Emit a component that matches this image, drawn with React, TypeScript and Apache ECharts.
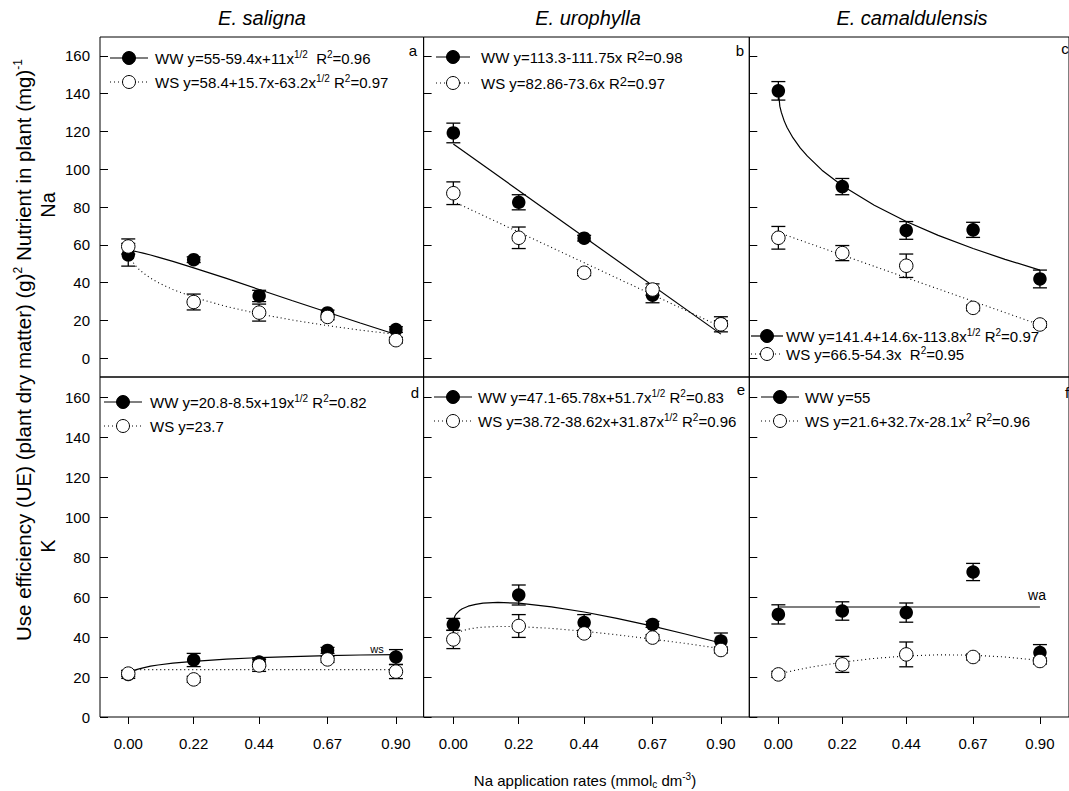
import React, { useEffect, useRef } from 'react';
import * as echarts from 'echarts';

// ---------- data ----------
const rates = [0, 0.22, 0.44, 0.67, 0.9];
const yTicks = [0, 20, 40, 60, 80, 100, 120, 140, 160];
const speciesNames = ['E. saligna', 'E. urophylla', 'E. camaldulensis'];
const panelLetters = ['a', 'b', 'c', 'd', 'e', 'f'];

// Na (top row) – means and error (half bar)
const salignaNaWW = [54.7, 52.1, 32.9, 23.9, 15.1];
const salignaNaWWErr = [6, 1.5, 3, 1.5, 1.5];
const salignaNaWS = [59.1, 29.7, 24.1, 21.8, 9.5];
const salignaNaWSErr = [4, 4.2, 4.5, 1.5, 1.5];
const urophyllaNaWW = [119.2, 82.5, 63.5, 33.3, 18.3];
const urophyllaNaWWErr = [5.2, 4, 1.5, 4, 1.5];
const urophyllaNaWS = [87.3, 63.7, 45.2, 36.3, 17.9];
const urophyllaNaWSErr = [6, 5.7, 1.5, 3, 4];
const camalNaWW = [141.5, 90.8, 67.6, 67.9, 41.9];
const camalNaWWErr = [4.9, 4.3, 4.7, 4, 4.7];
const camalNaWS = [63.7, 55.6, 48.9, 26.6, 17.8];
const camalNaWSErr = [6, 4, 6.2, 1.5, 1.5];

// K (bottom row)
const salignaKWW = [21.3, 28.5, 27.5, 33.3, 30];
const salignaKWWErr = [2, 3.3, 2, 1.5, 3.7];
const salignaKWS = [21.7, 18.8, 25.8, 28.8, 22.7];
const salignaKWSErr = [1.5, 1.5, 3, 1.5, 3.5];
const urophyllaKWW = [46.3, 61, 47.2, 46.3, 38];
const urophyllaKWWErr = [3, 5, 4, 1.5, 4];
const urophyllaKWS = [38.8, 45.5, 41.8, 39.7, 33.5];
const urophyllaKWSErr = [4.6, 5.7, 1.5, 1.5, 1.5];
const camalKWW = [51.3, 53, 52.2, 72.5, 32.2];
const camalKWWErr = [4.8, 4.6, 4.8, 4.3, 4];
const camalKWS = [21.3, 26.3, 31.3, 30, 28];
const camalKWSErr = [1.5, 4, 6.2, 1.5, 1.5];

// fitted curves at these x positions
const fitX = [0, 0.005, 0.01, 0.02, 0.03, 0.05, 0.075, 0.1, 0.15, 0.22, 0.33, 0.44, 0.55, 0.67, 0.78, 0.9];
const lineX = [0, 0.9];
const quadX = [0, 0.11, 0.22, 0.33, 0.44, 0.55, 0.67, 0.78, 0.9];

const salignaNaWWFit = [56.5, 56.8, 56.8, 56.6, 56.3, 55.6, 54.6, 53.5, 51.2, 47.8, 42.2, 36.3, 30.5, 24.3, 18.6, 12.5];
const salignaNaWSFit = [58.4, 54.0, 52.2, 49.8, 47.9, 45.1, 42.3, 40.0, 36.3, 32.2, 27.3, 23.4, 20.2, 17.2, 14.8, 12.6];
const urophyllaNaWWFit = [113.3, 12.7];
const urophyllaNaWSFit = [82.9, 16.6];
const camalNaWWFit = [141.4, 133.4, 130.2, 125.6, 122.1, 116.7, 111.3, 106.9, 99.5, 91.2, 80.9, 72.3, 65.0, 58.0, 52.3, 46.6];
const camalNaWSFit = [66.5, 17.6];
const salignaKWWFit = [20.8, 22.1, 22.6, 23.3, 23.8, 24.6, 25.4, 26.0, 26.9, 27.8, 28.9, 29.7, 30.2, 30.7, 31.0, 31.2];
const salignaKWSFit = [23.7, 23.7];
const urophyllaKWWFit = [47.1, 50.4, 51.6, 53.1, 54.1, 55.4, 56.3, 56.9, 57.3, 56.9, 55.1, 52.5, 49.3, 45.4, 41.5, 37.0];
const urophyllaKWSFit = [38.7, 40.8, 41.5, 42.5, 43.1, 43.9, 44.6, 44.9, 45.3, 45.2, 44.3, 42.9, 41.1, 38.9, 36.8, 34.2];
const camalKWWFit = [55, 55];
const camalKWSFit = [21.6, 24.9, 27.4, 29.3, 30.5, 31.1, 30.9, 30.0, 28.3];

const legendWW = [
  'WW y=55-59.4x+11x{s|1/2}  R{s|2}=0.96',
  'WW y=113.3-111.75x R{S|2}=0.98',
  'WW y=141.4+14.6x-113.8x{s|1/2} R{s|2}=0.97',
  'WW y=20.8-8.5x+19x{s|1/2} R{s|2}=0.82',
  'WW y=47.1-65.78x+51.7x{s|1/2} R{s|2}=0.83',
  'WW y=55',
];
const legendWS = [
  'WS y=58.4+15.7x-63.2x{s|1/2} R{s|2}=0.97',
  'WS y=82.86-73.6x R{S|2}=0.97',
  'WS y=66.5-54.3x  R{s|2}=0.95',
  'WS y=23.7',
  'WS y=38.72-38.62x+31.87x{s|1/2} R{s|2}=0.96',
  'WS y=21.6+32.7x-28.1x{s|2} R{s|2}=0.96',
];

// ---------- layout ----------
const FONT = "'Liberation Sans', Arial, Helvetica, sans-serif";
const colLeft = [100, 423.6, 749.3];
const colWidth = [323.6, 325.7, 327];
const colMin = [-0.095, -0.1, -0.1];
const colMax = [0.993, 0.9955, 1.0];
const rowTop = [37, 377];
const rowHeight = 340;
const rowMin = [-10, 0];
const rowMax = 170;

const legendPos = [
  { cx: 129, tx: 155, y: [58, 82], half: 19 },
  { cx: 453, tx: 481, y: [57, 83], half: 17 },
  { cx: 767, tx: 786, y: [336, 354], half: 16 },
  { cx: 123, tx: 150, y: [402, 426], half: 19 },
  { cx: 453, tx: 478, y: [397, 421], half: 19 },
  { cx: 780, tx: 805, y: [397, 421], half: 19 },
];
const letterPos = [
  [413, 50], [740, 50], [1065, 48], [415, 392], [741, 389], [1067, 392],
];

const richSup = {
  s: { fontSize: 10, fontFamily: FONT, verticalAlign: 'top', lineHeight: 10, fill: '#000', color: '#000' },
  S: { fontSize: 13, fontFamily: FONT, verticalAlign: 'top', lineHeight: 13, fill: '#000', color: '#000' },
  c: { fontSize: 10, fontFamily: FONT, verticalAlign: 'bottom', lineHeight: 10, fill: '#000', color: '#000' },
};

function pairs(xs: number[], ys: number[]) {
  return xs.map((x, i) => [x, ys[i]]);
}

export default function App() {
  const ref = useRef<HTMLDivElement>(null);

  useEffect(() => {
    if (!ref.current) return;
    const chart = echarts.init(ref.current, null, { renderer: 'svg' });

    const panels = [
      { ww: salignaNaWW, wwE: salignaNaWWErr, ws: salignaNaWS, wsE: salignaNaWSErr, wwFx: fitX, wwF: salignaNaWWFit, wsFx: fitX, wsF: salignaNaWSFit },
      { ww: urophyllaNaWW, wwE: urophyllaNaWWErr, ws: urophyllaNaWS, wsE: urophyllaNaWSErr, wwFx: lineX, wwF: urophyllaNaWWFit, wsFx: lineX, wsF: urophyllaNaWSFit },
      { ww: camalNaWW, wwE: camalNaWWErr, ws: camalNaWS, wsE: camalNaWSErr, wwFx: fitX, wwF: camalNaWWFit, wsFx: lineX, wsF: camalNaWSFit },
      { ww: salignaKWW, wwE: salignaKWWErr, ws: salignaKWS, wsE: salignaKWSErr, wwFx: fitX, wwF: salignaKWWFit, wsFx: lineX, wsF: salignaKWSFit },
      { ww: urophyllaKWW, wwE: urophyllaKWWErr, ws: urophyllaKWS, wsE: urophyllaKWSErr, wwFx: fitX, wwF: urophyllaKWWFit, wsFx: fitX, wsF: urophyllaKWSFit },
      { ww: camalKWW, wwE: camalKWWErr, ws: camalKWS, wsE: camalKWSErr, wwFx: lineX, wwF: camalKWWFit, wsFx: quadX, wsF: camalKWSFit },
    ];

    const grids: any[] = [];
    const xAxes: any[] = [];
    const yAxes: any[] = [];
    const series: any[] = [];
    const graphics: any[] = [];

    const errRender = (params: any, api: any) => {
      const x = api.value(0);
      const y = api.value(1);
      const e = api.value(2);
      const top = api.coord([x, y + e]);
      const bot = api.coord([x, y - e]);
      const hw = 7;
      const st = { stroke: '#000', lineWidth: 1.3 };
      return {
        type: 'group',
        children: [
          { type: 'line', shape: { x1: top[0], y1: top[1], x2: bot[0], y2: bot[1] }, style: st },
          { type: 'line', shape: { x1: top[0] - hw, y1: top[1], x2: top[0] + hw, y2: top[1] }, style: st },
          { type: 'line', shape: { x1: bot[0] - hw, y1: bot[1], x2: bot[0] + hw, y2: bot[1] }, style: st },
        ],
      };
    };

    panels.forEach((p, i) => {
      const row = Math.floor(i / 3);
      const col = i % 3;
      grids.push({
        left: colLeft[col], top: rowTop[row], width: colWidth[col], height: rowHeight,
        show: true, borderColor: '#000', borderWidth: 1, backgroundColor: 'transparent',
        containLabel: false,
      });
      xAxes.push({
        type: 'value', gridIndex: i, min: colMin[col], max: colMax[col],
        position: 'bottom',
        axisLine: { show: false, onZero: false },
        splitLine: { show: false },
        axisTick: row === 1
          ? { show: true, inside: false, length: 7, customValues: rates, lineStyle: { color: '#000' } }
          : { show: false },
        axisLabel: row === 1
          ? { show: true, customValues: rates, formatter: (v: number) => v.toFixed(2), fontSize: 15, fontFamily: FONT, color: '#000', margin: 19 }
          : { show: false },
      });
      yAxes.push({
        type: 'value', gridIndex: i, min: rowMin[row], max: rowMax,
        position: 'left',
        axisLine: { show: false, onZero: false },
        splitLine: { show: false },
        axisTick: { show: true, inside: true, length: 8, customValues: yTicks, lineStyle: { color: '#000' } },
        axisLabel: col === 0
          ? { show: true, customValues: yTicks, fontSize: 15, fontFamily: FONT, color: '#000', margin: 10 }
          : { show: false },
      });

      series.push({
        type: 'line', xAxisIndex: i, yAxisIndex: i, data: pairs(p.wwFx, p.wwF),
        symbol: 'none', smooth: false, silent: true, z: 2,
        lineStyle: { color: '#000', width: 1.2 },
      });
      series.push({
        type: 'line', xAxisIndex: i, yAxisIndex: i, data: pairs(p.wsFx, p.wsF),
        symbol: 'none', smooth: false, silent: true, z: 2,
        lineStyle: { color: '#000', width: 1.1, type: [1, 3] },
      });
      series.push({
        type: 'custom', xAxisIndex: i, yAxisIndex: i, z: 3,
        data: rates.map((x, k) => [x, p.ww[k], p.wwE[k]]),
        encode: { x: 0, y: 1 }, renderItem: errRender, silent: true,
      });
      series.push({
        type: 'scatter', xAxisIndex: i, yAxisIndex: i, z: 4,
        data: pairs(rates, p.ww), symbol: 'circle', symbolSize: 13.5,
        itemStyle: { color: '#000', opacity: 1 }, silent: true,
      });
      series.push({
        type: 'custom', xAxisIndex: i, yAxisIndex: i, z: 5,
        data: rates.map((x, k) => [x, p.ws[k], p.wsE[k]]),
        encode: { x: 0, y: 1 }, renderItem: errRender, silent: true,
      });
      series.push({
        type: 'scatter', xAxisIndex: i, yAxisIndex: i, z: 6,
        data: pairs(rates, p.ws), symbol: 'circle', symbolSize: 13.5,
        itemStyle: { color: '#fff', borderColor: '#000', borderWidth: 1, opacity: 1 }, silent: true,
      });

      // legend
      const lp = legendPos[i];
      [0, 1].forEach((k) => {
        const y = lp.y[k];
        graphics.push({
          type: 'line', z: 20,
          shape: { x1: lp.cx - lp.half, y1: y, x2: lp.cx + lp.half, y2: y },
          style: k === 0 ? { stroke: '#000', lineWidth: 1.2 } : { stroke: '#000', lineWidth: 1.1, lineDash: [1, 3] },
        });
        graphics.push({
          type: 'circle', z: 21,
          shape: { cx: lp.cx, cy: y, r: 6.5 },
          style: k === 0 ? { fill: '#000', stroke: '#000', lineWidth: 1 } : { fill: '#fff', stroke: '#000', lineWidth: 1 },
        });
        graphics.push({
          type: 'text', z: 21, x: lp.tx, y,
          style: {
            text: k === 0 ? legendWW[i] : legendWS[i],
            fontSize: 15, fontFamily: FONT, fill: '#000',
            align: 'left', verticalAlign: 'middle', lineHeight: 17,
            rich: richSup,
          },
        });
      });
      graphics.push({
        type: 'text', z: 21, x: letterPos[i][0], y: letterPos[i][1],
        style: { text: panelLetters[i], fontSize: 15, fontFamily: FONT, fill: '#000', align: 'center', verticalAlign: 'middle' },
      });
    });

    // species titles
    speciesNames.forEach((s, c) => {
      graphics.push({
        type: 'text', x: [262, 588, 912][c], y: 18,
        style: { text: s, fontSize: 20, fontStyle: 'italic', fontFamily: FONT, fill: '#000', align: 'center', verticalAlign: 'middle' },
      });
    });

    // axis titles
    graphics.push({
      type: 'text', x: 585, y: 780,
      style: {
        text: 'Na application rates (mmol{c|c} dm{s|-3})',
        fontSize: 15, fontFamily: FONT, fill: '#000', align: 'center', verticalAlign: 'middle', lineHeight: 18,
        rich: richSup,
      },
    });
    graphics.push({
      type: 'text', x: 23, y: 350, rotation: Math.PI / 2,
      style: {
        text: 'Use efficiency (UE) (plant dry matter) (g){s|2} Nutrient in plant (mg){s|-1}',
        fontSize: 20.5, fontFamily: FONT, fill: '#000', align: 'center', verticalAlign: 'middle', lineHeight: 22,
        rich: {
          s: { fontSize: 12, fontFamily: FONT, verticalAlign: 'top', lineHeight: 12, fill: '#000', color: '#000' },
        },
      },
    });
    graphics.push({
      type: 'text', x: 48, y: 205, rotation: Math.PI / 2,
      style: { text: 'Na', fontSize: 20, fontFamily: FONT, fill: '#000', align: 'center', verticalAlign: 'middle' },
    });
    graphics.push({
      type: 'text', x: 48, y: 546, rotation: Math.PI / 2,
      style: { text: 'K', fontSize: 20, fontFamily: FONT, fill: '#000', align: 'center', verticalAlign: 'middle' },
    });
    // small annotations
    graphics.push({
      type: 'text', x: 377, y: 649,
      style: { text: 'ws', fontSize: 11, fontFamily: FONT, fill: '#000', align: 'center', verticalAlign: 'middle' },
    });
    graphics.push({
      type: 'text', x: 1037, y: 595,
      style: { text: 'wa', fontSize: 14, fontFamily: FONT, fill: '#000', align: 'center', verticalAlign: 'middle' },
    });

    chart.setOption({
      animation: false,
      backgroundColor: '#fff',
      grid: grids,
      xAxis: xAxes,
      yAxis: yAxes,
      series,
      graphic: graphics,
    });

    return () => {
      chart.dispose();
    };
  }, []);

  return (
    <div
      ref={ref}
      style={{ position: 'absolute', left: 0, top: 0, width: 1069, height: 791, background: '#fff' }}
    />
  );
}
